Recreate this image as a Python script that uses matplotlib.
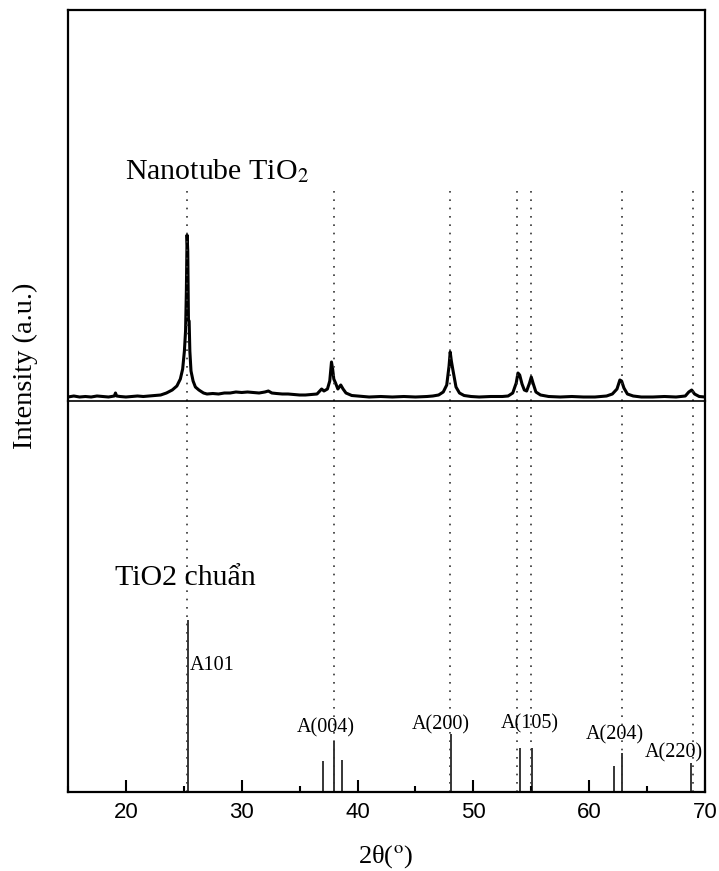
import matplotlib
matplotlib.use("Agg")
import matplotlib.pyplot as plt
from matplotlib.ticker import MultipleLocator

plt.rcParams['mathtext.fontset'] = 'stix'

# measured XRD curve of the nanotubes (2theta, intensity a.u.)
tube_x = [15.0, 15.5, 16.0, 16.5, 17.0, 17.5, 18.0, 18.5, 19.0, 19.1, 19.2, 19.5,
          20.0, 20.5, 21.0, 21.5, 22.0, 22.5, 23.0, 23.5, 24.0, 24.4, 24.7, 24.9,
          25.05, 25.15, 25.22, 25.28, 25.34, 25.40, 25.46, 25.52, 25.62, 25.8, 26.0,
          26.3, 26.7, 27.0, 27.5, 28.0, 28.5, 29.0, 29.5, 30.0, 30.5, 31.0, 31.5,
          32.0, 32.3, 32.6, 33.0, 33.5, 34.0, 34.5, 35.0, 35.5, 36.0, 36.5, 36.9,
          37.1, 37.4, 37.6, 37.75, 37.85, 37.95, 38.1, 38.3, 38.55, 38.75, 39.0,
          39.5, 40.0, 40.5, 41.0, 42.0, 43.0, 44.0, 45.0, 46.0, 46.5, 47.0, 47.4,
          47.7, 47.9, 48.0, 48.1, 48.25, 48.5, 48.8, 49.2, 49.8, 50.5, 51.5, 52.5,
          53.0, 53.4, 53.7, 53.85, 54.0, 54.2, 54.4, 54.6, 54.85, 55.0, 55.15, 55.4,
          55.8, 56.5, 57.5, 58.5, 59.5, 60.5, 61.5, 62.0, 62.4, 62.65, 62.8, 63.0,
          63.3, 63.8, 64.5, 65.5, 66.5, 67.5, 68.3, 68.6, 68.85, 69.1, 69.5, 70.0]
tube_y = [4, 5, 4, 4.5, 4, 5, 4.5, 4, 5, 8, 5, 4.5,
          4, 4.5, 5, 4.5, 5, 5.5, 6, 8, 11, 15, 22, 32,
          50, 70, 110, 166, 150, 81, 80, 50, 30, 20, 14,
          11, 8, 7, 7.5, 7, 8, 8, 9, 8.5, 9, 8.5, 8,
          9, 10, 8, 7.5, 7, 7, 6.5, 6, 6, 6.5, 7, 12,
          10, 12, 20, 39, 32, 22, 18, 12, 16, 12, 8,
          5.5, 5, 4.5, 4, 4.5, 4, 4.5, 4, 4.5, 5, 6, 9,
          16, 35, 49, 40, 30, 14, 8, 5.5, 4.5, 4, 4.5, 4.5,
          5, 8, 18, 28, 26, 17, 11, 10, 18, 24, 18, 9,
          6, 4.5, 4, 4.5, 4, 4, 5, 7, 12, 21, 20, 13,
          7, 5, 4, 4, 4.5, 4, 5, 9, 11, 7, 4.5, 4]

# standard anatase pattern (stick positions and heights)
ref_x = [25.35, 37.0, 37.93, 38.69, 48.07, 54.0, 55.05, 62.18, 62.8, 68.8]
ref_h = [172, 31, 51, 32, 58, 44, 44, 26, 39, 29]

# dotted guide lines
guide_x = [25.3, 37.93, 48.0, 53.8, 55.0, 62.84, 69.0]

peak_labels = ["A101", "A(004)", "A(200)", "A(105)", "A(204)", "A(220)"]
label_x = [25.5, 37.27, 47.2, 54.9, 62.25, 67.35]
label_y = [127, 64, 67, 68, 57, 39]

fig = plt.figure(figsize=(7.19, 8.71), dpi=100)
L, R, B, M, T = 68/719, 705/719, 79/871, 470/871, 861/871
ax_top = fig.add_axes([L, M, R - L, T - M])
ax_bot = fig.add_axes([L, B, R - L, M - B], sharex=ax_top)
ax_bot.patch.set_visible(False)

ax_top.plot(tube_x, tube_y, color='black', lw=2.2)
ax_top.set_ylim(0, 391)
ax_bot.set_ylim(0, 391)
ax_bot.set_xlim(15, 70)

ax_bot.vlines(ref_x, 0, ref_h, color='black', lw=1.1)

for gx in guide_x:
    ax_top.axvline(gx, ymin=0, ymax=212/391, color='#333333', lw=1.2, ls=(0, (1, 4)))
    ax_bot.axvline(gx, ymin=0, ymax=1, color='#333333', lw=1.2, ls=(0, (1, 4)))

serif = 'Liberation Serif'
for i, lab in enumerate(peak_labels):
    ha = 'left' if i == 0 else 'center'
    ax_bot.text(label_x[i], label_y[i], lab, ha=ha, va='center',
                fontsize=14.5, family=serif)

ax_top.text(19.9, 222, 'Nanotube TiO$_2$', fontsize=21.5, family=serif, va='baseline')
ax_bot.text(19.06, 207, 'TiO2 chuẩn', fontsize=21.5, family=serif, va='baseline')

for sp in ['left', 'right', 'top']:
    ax_top.spines[sp].set_linewidth(1.6)
ax_top.spines['bottom'].set_visible(False)
ax_bot.spines['top'].set_linewidth(1.2)
for sp in ['left', 'right', 'bottom']:
    ax_bot.spines[sp].set_linewidth(1.6)

ax_top.tick_params(axis='both', which='both', bottom=False, left=False,
                   labelbottom=False, labelleft=False)
ax_bot.set_yticks([])
ax_bot.xaxis.set_major_locator(MultipleLocator(10))
ax_bot.xaxis.set_minor_locator(MultipleLocator(5))
ax_bot.tick_params(axis='x', which='major', direction='in', length=9, width=1.5,
                   pad=7, labelsize=16, labelfontfamily='Liberation Sans')
ax_bot.tick_params(axis='x', which='minor', direction='in', length=4.5, width=1.5)

fig.text(386/719, 1 - 857/871, r'2θ($^{\mathrm{o}}$)', fontsize=19, family=serif,
         ha='center', va='center')
fig.text(25/719, 1 - 366/871, 'Intensity (a.u.)', fontsize=20.5, family=serif,
         rotation=90, ha='center', va='center')

fig.savefig('out.png', dpi=100)
